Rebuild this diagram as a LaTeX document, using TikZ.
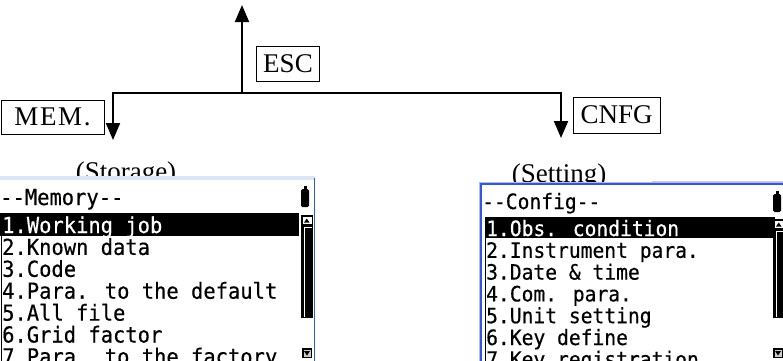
\documentclass[tikz,border=0pt]{standalone}
\usepackage{fontspec}
\setmainfont{Liberation Serif}
\newfontfamily\lcd[FakeStretch=0.93,FakeBold=0.4]{DejaVu Sans Mono}
\usetikzlibrary{arrows.meta}

\definecolor{scrblue}{HTML}{3355EE}
\definecolor{scrpale}{HTML}{DCE5F5}

\tikzset{
  conn/.style={line width=2pt, {Triangle[length=17pt,width=14pt]}-{Triangle[length=17pt,width=14pt]}},
  keybox/.style={draw, line width=1pt, inner sep=0pt, font=\fontsize{27}{30}\selectfont},
  caption/.style={anchor=base, font=\fontsize{27}{30}\selectfont},
  lcdline/.style={anchor=base west, inner sep=0pt, font=\lcd\fontsize{#1}{#1}\selectfont},
}

\begin{document}
\begin{tikzpicture}[x=1pt, y=-1pt]
  \clip (0,0) rectangle (783,360);

  % keys and branches
  \coordinate (jn) at (242,93);
  \coordinate (escup) at (242,5);
  \coordinate (lt) at (113,93);
  \coordinate (rt) at (561,93);
  \coordinate (memdn) at (113,140);
  \coordinate (cfgdn) at (561,138);
  \draw[conn, {Triangle[length=17pt,width=14pt]}-] (escup) -- (jn);
  \draw[conn, line join=miter] (memdn) -- (lt) -- (rt) -- (cfgdn);
  \node[keybox, minimum width=63pt, minimum height=35pt] (esc) at (288,63.5) {ESC};
  \node[keybox, minimum width=103pt, minimum height=34pt] (mem) at (52.5,117)
    {\addfontfeature{LetterSpace=6}MEM.};
  \node[keybox, minimum width=87pt, minimum height=36pt] (cnfg) at (616.5,115) {CNFG};
  \node[caption] (storage) at (126,180) {(Storage)};
  \node[caption] (setting) at (559,182) {(Setting)};

  % memory screen
  \fill[white] (-5,176) rectangle (315,365);
  \fill[scrpale] (-5,176) rectangle (315,180);
  \draw[scrblue, line width=1pt] (314.5,178) -- (314.5,365);
  \draw[line width=1pt] (1.5,236) -- (1.5,365);
  \fill (0,213) rectangle (299,236);
  \node[lcdline=22pt] (memtitle) at (0,205) {--Memory--};
  \foreach \txt/\tc [count=\i] in {1.Working job/white, 2.Known data/black, 3.Code/black,
      4.Para. to the default/black, 5.All file/black, 6.Grid factor/black,
      7.Para. to the factory/black}
    \node[lcdline=22pt, text=\tc] (mem\i) at (2,{233+21.9*(\i-1)}) {\txt};
  % battery and scroll bar
  \fill[rounded corners=1.5pt] (301,189) rectangle (309,207);
  \fill (303.5,186) rectangle (306.5,190);
  \fill (301,215) rectangle (313,318);
  \fill[white] (302.5,216.5) rectangle (311.5,224);
  \fill (304,222.5) -- (309.5,222.5) -- (306.75,218.5) -- cycle;
  \draw[white, line width=0.8pt] (304.5,317) -- (304.5,227) -- (311.5,227);
  \fill (302,348) rectangle (312,358);
  \fill[white!80!black] (303.5,349.5) rectangle (310.5,356.5);
  \fill (304,351) -- (310,351) -- (307,355.5) -- cycle;

  % config screen
  \draw[gray!40, line width=1pt] (652,181.5) -- (790,181.5);
  \fill[white] (481,184) rectangle (790,365);
  \draw[scrblue!40, line width=1pt] (479,365) -- (479,182) -- (790,182);
  \draw[scrblue, line width=1.5pt] (481,365) -- (481,184) -- (790,184);
  \draw[line width=1pt] (485.5,238) -- (485.5,365);
  \fill (485,217) rectangle (775,238);
  \node[lcdline=21.1pt] (cfgtitle) at (482,209) {--Config--};
  \foreach \txt/\tc [count=\i] in {1.Obs. condition/white, 2.Instrument para./black,
      3.Date \& time/black, 4.Com. para./black, 5.Unit setting/black,
      6.Key define/black, 7.Key registration/black}
    \node[lcdline=21.1pt, text=\tc] (cfg\i) at (486,{236+21.8*(\i-1)}) {\txt};
  % battery and scroll bar
  \fill[rounded corners=1.5pt] (773,194) rectangle (781,212);
  \fill (775.5,191) rectangle (778.5,195);
  \fill (773,219) rectangle (785,318);
  \fill[white] (774.5,220.5) rectangle (783.5,228);
  \fill (776,226.5) -- (781.5,226.5) -- (778.75,222.5) -- cycle;
  \draw[white, line width=0.8pt] (776.5,317) -- (776.5,231) -- (784,231);
  \fill (773,348) rectangle (783,358);
  \fill[white!80!black] (774.5,349.5) rectangle (781.5,356.5);
  \fill (775,351) -- (781,351) -- (778,355.5) -- cycle;
\end{tikzpicture}
\end{document}
